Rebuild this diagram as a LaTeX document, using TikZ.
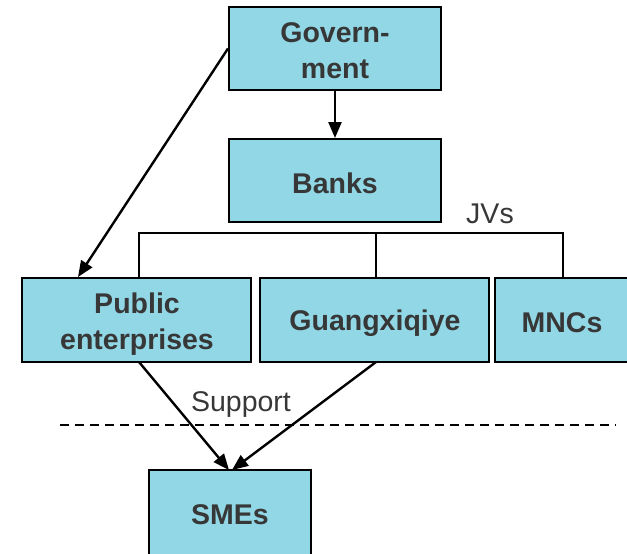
\documentclass[tikz,border=0pt]{standalone}
\usepackage{fontspec}
\setmainfont{Liberation Sans}
\usetikzlibrary{arrows.meta,calc}
\definecolor{boxfill}{RGB}{145,215,230}
\definecolor{txt}{RGB}{55,55,55}
\tikzset{
  box/.style={draw=black, line width=2pt, fill=boxfill, inner sep=0pt},
  boxtxt/.style={text=txt, font=\fontsize{28.5}{36}\selectfont\bfseries, align=center, inner sep=0pt},
  conn/.style={line width=2.4pt, -{Triangle[length=16pt,width=13pt]}},
  tree/.style={line width=1.6pt},
  lbl/.style={text=txt, font=\fontsize{28.5}{34}\selectfont, inner sep=0pt}
}
\begin{document}
\begin{tikzpicture}[x=1pt,y=-1pt]
\useasboundingbox (0,0) rectangle (627,554);
\clip (0,0) rectangle (627,554);
\node[box, minimum width=212pt, minimum height=83pt] (gov) at (335,48.5) {};
\node[boxtxt] (govt) at (335,51) {Govern-\\ment};
\node[box, minimum width=212pt, minimum height=83pt] (banks) at (335,180.5) {};
\node[boxtxt] (bankst) at (335,183) {Banks};
\node[box, minimum width=229pt, minimum height=84pt] (pub) at (136.5,320) {};
\node[boxtxt] (pubt) at (137,324) {Public\\enterprises};
\node[box, minimum width=229pt, minimum height=84pt] (gx) at (374.5,320) {};
\node[boxtxt] (gxt) at (375,323) {Guangxiqiye};
\node[box, minimum width=150pt, minimum height=84pt] (mnc) at (570,320) {};
\node[boxtxt] (mnct) at (562,323) {MNCs};
\node[box, minimum width=162pt, minimum height=100pt] (sme) at (230,520) {};
\node[boxtxt] (smet) at (230,515) {SMEs};
\node[lbl] (jvs) at (490,214) {JVs};
\node[lbl] (sup) at (241,405) {Support};
\coordinate (tl) at (139,233);
\coordinate (tm) at (376,233);
\coordinate (tr) at (563,233);
\draw[tree] (pub.north -| tl) -- (tl) -- (tr) -- (mnc.north -| tr);
\draw[tree] (tm) -- (gx.north -| tm);
\draw[conn] (gov) -- (banks);
\coordinate (pubtop) at (78,277);
\draw[conn] (gov.west) -- (pubtop);
\coordinate (pb) at (139,362);
\coordinate (gb) at (376,362);
\coordinate (s1) at (229,470);
\coordinate (s2) at (232,470);
\draw[conn] (pb) -- (s1);
\draw[conn] (gb) -- (s2);
\coordinate (dl) at (60,425);
\coordinate (dr) at (616,425);
\draw[line width=1.4pt, dash pattern=on 9pt off 6pt] (dl) -- (dr);
\end{tikzpicture}
\end{document}
